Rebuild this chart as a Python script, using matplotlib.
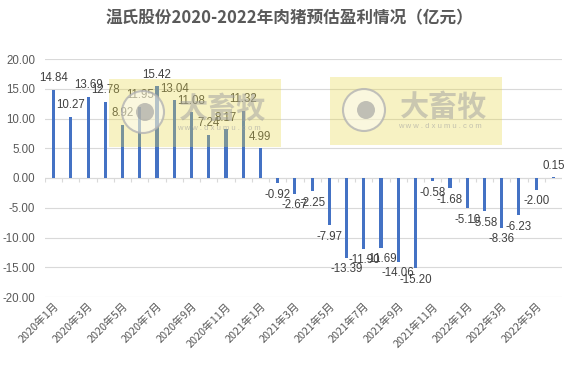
import matplotlib
matplotlib.use("Agg")
import matplotlib.pyplot as plt
from matplotlib.patches import Rectangle, Ellipse

plt.rcParams['font.family'] = ['Noto Sans CJK SC', 'DejaVu Sans']

# ---- data ----
months = [f"{y}年{m}月" for y in (2020, 2021, 2022) for m in range(1, 13)][:30]
profit = [14.84, 10.27, 13.69, 12.78, 8.92, 11.95, 15.42, 13.04, 11.08, 7.24,
          8.17, 11.32, 4.99, -0.92, -2.67, -2.25, -7.97, -13.39, -11.90, -11.69,
          -14.06, -15.20, -0.58, -1.68, -5.10, -5.58, -8.36, -6.23, -2.00, 0.15]
yticks = [-20, -15, -10, -5, 0, 5, 10, 15, 20]

BAR = "#4472C4"
GREY = "#595959"
LAT = ['Liberation Sans', 'DejaVu Sans']

W, H = 579, 372
fig = plt.figure(figsize=(W / 100, H / 100), dpi=100)
ax = fig.add_axes([45 / W, 1 - 297 / H, 517 / W, 238 / H])

x = list(range(len(profit)))
ax.bar(x, profit, width=0.18, color=BAR, zorder=3)

for xi, v in zip(x, profit):
    ax.annotate(f"{v:.2f}", (xi, v), xytext=(0, 4 if v >= 0 else -4),
                textcoords="offset points", ha="center",
                va="bottom" if v >= 0 else "top", fontsize=8.3, color="#404040",
                family=LAT, zorder=4)

ax.set_xlim(-0.5, len(profit) - 0.5)
ax.set_ylim(-20, 20)
ax.set_yticks(yticks)
ax.set_yticklabels([f"{t:.2f}" for t in yticks], family=LAT)
ax.grid(axis="y", color="#d9d9d9", linewidth=0.8, zorder=0)
ax.axhline(0, color="#d9d9d9", linewidth=0.8, zorder=1)
ax.vlines([i + 0.5 for i in x[:-1]] + [-0.5], 0, -0.6, color="#d9d9d9", linewidth=0.8, zorder=1)
for s in ax.spines.values():
    s.set_visible(False)
ax.tick_params(axis="y", length=0, labelsize=8.3, colors=GREY, pad=7)
ax.tick_params(axis="x", length=0, labelsize=7.8, colors=GREY, pad=3)
ax.set_xticks(x[::2])
ax.set_xticklabels(months[::2], rotation=45, ha="right", rotation_mode="anchor")

fig.suptitle("温氏股份2020-2022年肉猪预估盈利情况（亿元）", x=0.5, y=0.975,
             fontsize=12, fontweight="bold", color=GREY)

# ---- watermark ----
def fx(px):
    return px / W

def fy(py):
    return 1 - py / H

for left, top in ((109, 79), (330, 77)):
    fig.patches.append(Rectangle((fx(left), fy(top + 68)), 172 / W, 68 / H,
                                 transform=fig.transFigure, facecolor="#e8d84a",
                                 alpha=0.33, edgecolor="none", zorder=5))
    cx, cy = fx(left + 34), fy(top + 33)
    fig.patches.append(Ellipse((cx, cy), 42 / W, 42 / H, transform=fig.transFigure,
                               facecolor=(1, 1, 1, 0.45), edgecolor=(0.7, 0.7, 0.7, 0.8),
                               lw=1.5, zorder=6))
    fig.patches.append(Ellipse((cx + 2 / W, cy), 18 / W, 18 / H, transform=fig.transFigure,
                               facecolor="#9a9a9a", edgecolor="none", alpha=0.6, zorder=7))
    fig.text(fx(left + 114), fy(top + 30), "大畜牧", ha="center", va="center",
             fontsize=21, fontweight="bold", color="#9e9e9e", alpha=0.5, zorder=8)
    fig.text(fx(left + 110), fy(top + 50), "w w w . d x u m u . c o m", ha="center",
             va="center", fontsize=5.5, color="#a0a0a0", alpha=0.6, zorder=8, family=LAT)

fig.savefig("out.png", dpi=100)
